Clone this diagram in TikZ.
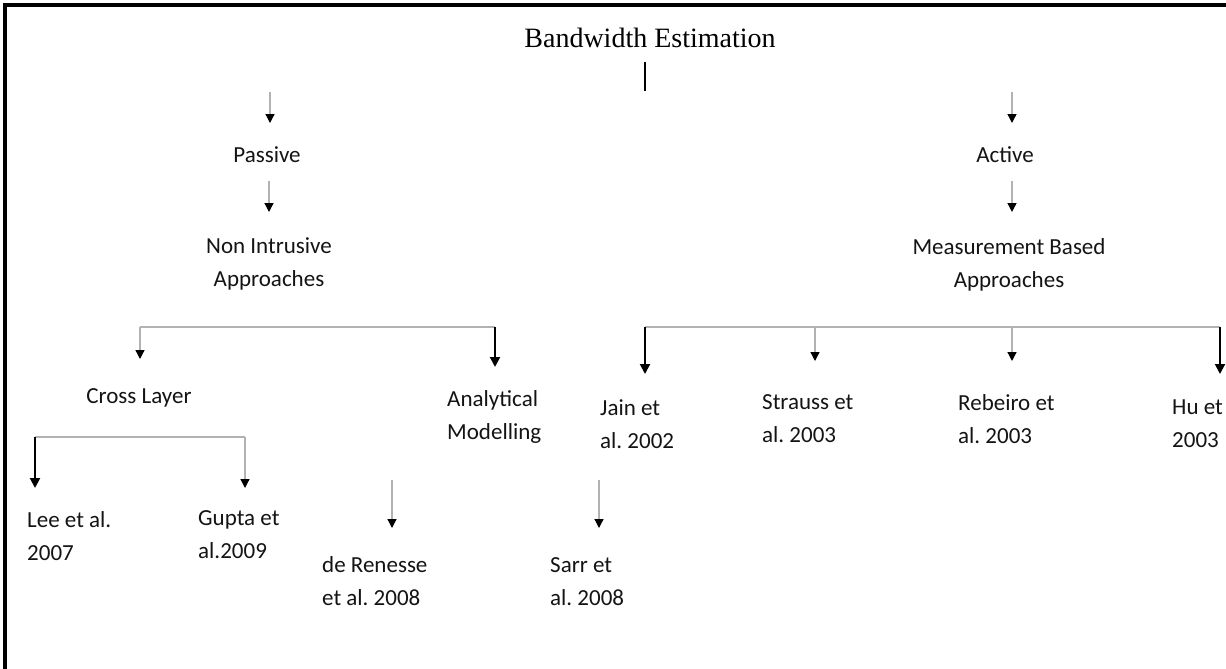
\documentclass[tikz,border=0pt]{standalone}
\usepackage{fontspec}
\setmainfont{Carlito}
\newfontfamily\titlefont{Liberation Serif}
\usetikzlibrary{arrows.meta}
\frenchspacing
\begin{document}
\begin{tikzpicture}[x=1pt,y=-1pt,
  lbl/.style={font=\fontsize{23}{33}\selectfont, text=black!92, inner sep=0pt, align=left, anchor=west},
  clbl/.style={font=\fontsize{23}{33}\selectfont, text=black!92, inner sep=0pt, align=center},
  glink/.style={draw=black!30, line width=1.3pt, -{Triangle[width=9pt,length=9pt,color=black]}},
  blink/.style={draw=black, line width=2pt, -{Triangle[width=10pt,length=10pt]}},
  gline/.style={draw=black!30, line width=1.3pt},
  bline/.style={draw=black, line width=2pt}]
\useasboundingbox (0,0) rectangle (1226,669);
\fill[white] (0,0) rectangle (1226,669);
\draw[line width=4pt] (5,669) -- (5,5) -- (1226,5);

% title
\node[font=\titlefont\fontsize{28}{30}\selectfont, inner sep=0pt] (title) at (650,38) {Bandwidth Estimation};
\coordinate (tA) at (645,62);
\coordinate (tB) at (645,91);
\draw[bline] (tA) -- (tB);

% second level
\node[clbl] (passive) at (267,155) {Passive};
\node[clbl] (nonint) at (269,264) {Non Intrusive\\Approaches};
\node[clbl] (active) at (1005,155) {Active};
\node[clbl] (meas) at (1009,265) {Measurement Based\\Approaches};

\coordinate (pa1) at (270,92);   \coordinate (pa2) at (270,123);
\coordinate (pb1) at (269,181);  \coordinate (pb2) at (269,212);
\coordinate (aa1) at (1012,92);  \coordinate (aa2) at (1012,123);
\coordinate (ab1) at (1012,181); \coordinate (ab2) at (1012,212);
\draw[glink] (pa1) -- (pa2);
\draw[glink] (pb1) -- (pb2);
\draw[glink] (aa1) -- (aa2);
\draw[glink] (ab1) -- (ab2);

% left branch
\node[clbl] (cross) at (139,398) {Cross Layer};
\node[lbl] (anal) at (447,417) {Analytical\\Modelling};
\coordinate (lb1) at (140,327); \coordinate (lb2) at (495,327);
\coordinate (lc1) at (140,359); \coordinate (lc2) at (495,367);
\draw[gline] (lb1) -- (lb2);
\draw[glink] (lb1) -- (lc1);
\draw[blink] (lb2) -- (lc2);

% cross layer children
\node[lbl] (lee) at (27,536) {Lee et al.\\2007};
\node[lbl] (gupta) at (198,535) {Gupta et\\al.2009};
\coordinate (cl1) at (35,437);  \coordinate (cl2) at (245,437);
\coordinate (cm1) at (35,488);  \coordinate (cm2) at (245,488);
\draw[gline] (cl1) -- (cl2);
\draw[blink] (cl1) -- (cm1);
\draw[glink] (cl2) -- (cm2);

% analytical children
\node[lbl] (renesse) at (322,581) {de Renesse\\et al. 2008};
\node[lbl] (sarr) at (550,582) {Sarr et\\al. 2008};
\coordinate (ra1) at (392,480); \coordinate (ra2) at (392,528);
\coordinate (sa1) at (599,480); \coordinate (sa2) at (599,528);
\draw[glink] (ra1) -- (ra2);
\draw[glink] (sa1) -- (sa2);

% right branch
\node[lbl] (jain) at (600,424) {Jain et\\al. 2002};
\node[lbl] (strauss) at (762,419) {Strauss et\\al. 2003};
\node[lbl] (ribeiro) at (958,419) {Rebeiro et\\al. 2003};
\node[lbl] (hu) at (1172,424) {Hu et\\2003};
\coordinate (rb1) at (645,327); \coordinate (rb2) at (815,327);
\coordinate (rb3) at (1012,327); \coordinate (rb4) at (1220,327);
\coordinate (rc1) at (645,374); \coordinate (rc2) at (815,361);
\coordinate (rc3) at (1012,361); \coordinate (rc4) at (1220,374);
\draw[gline] (rb1) -- (rb4);
\draw[blink] (rb1) -- (rc1);
\draw[glink] (rb2) -- (rc2);
\draw[glink] (rb3) -- (rc3);
\draw[blink] (rb4) -- (rc4);
\end{tikzpicture}
\end{document}
